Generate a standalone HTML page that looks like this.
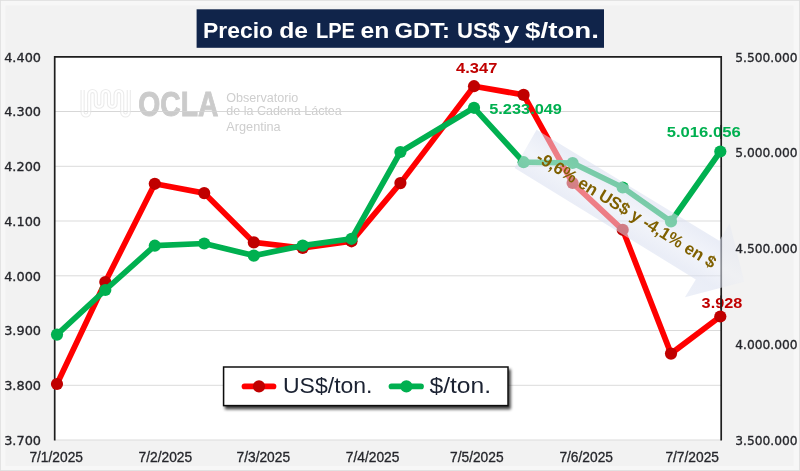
<!DOCTYPE html>
<html lang="es">
<head>
<meta charset="utf-8">
<title>Precio de LPE en GDT: US$ y $/ton.</title>
<style>
html,body{margin:0;padding:0;background:#f2f2f2;}
body{width:800px;height:471px;overflow:hidden;font-family:"Liberation Sans",sans-serif;}
svg{display:block;}
.ax{font-family:"DejaVu Sans","Liberation Sans",sans-serif;font-size:12px;fill:#25262b;stroke:#25262b;stroke-width:0.3px;}
.xd{font-family:"Liberation Sans",sans-serif;font-size:13.9px;fill:#25262b;stroke:#25262b;stroke-width:0.3px;}
.dl{font-family:"Liberation Sans",sans-serif;font-weight:bold;font-size:14.6px;}
</style>
</head>
<body>
<svg width="800" height="471" viewBox="0 0 800 471">
<defs>
<filter id="sh" x="-5%" y="-20%" width="112%" height="150%">
<feGaussianBlur in="SourceAlpha" stdDeviation="1.6"/>
<feOffset dx="2" dy="3" result="o"/>
<feComponentTransfer><feFuncA type="linear" slope="0.75"/></feComponentTransfer>
<feMerge><feMergeNode/><feMergeNode in="SourceGraphic"/></feMerge>
</filter>
<linearGradient id="ag" gradientUnits="userSpaceOnUse" x1="651.8" y1="176.5" x2="608.2" y2="249.1">
<stop offset="0" stop-color="#dde3f2" stop-opacity="0.55"/>
<stop offset="0.27" stop-color="#d9dff0" stop-opacity="0.55"/>
<stop offset="0.5" stop-color="#e8ecf6" stop-opacity="0.55"/>
<stop offset="0.73" stop-color="#d9dff0" stop-opacity="0.55"/>
<stop offset="1" stop-color="#dde3f2" stop-opacity="0.55"/>
</linearGradient>
</defs>
<!-- outer frame -->
<rect x="0" y="0" width="800" height="471" fill="#dedede"/>
<rect x="0.8" y="0.8" width="798.3" height="469.3" fill="#f7f7f7"/>
<rect x="5.5" y="5.5" width="788" height="460.5" fill="#f2f2f2"/>
<!-- plot area -->
<rect x="54.6" y="56.8" width="666.6" height="383.2" fill="#ffffff"/>
<g stroke="#dbdbdb" stroke-width="1"><line x1="55" x2="721" y1="111.5" y2="111.5"/><line x1="55" x2="721" y1="166.3" y2="166.3"/><line x1="55" x2="721" y1="221.0" y2="221.0"/><line x1="55" x2="721" y1="275.8" y2="275.8"/><line x1="55" x2="721" y1="330.5" y2="330.5"/><line x1="55" x2="721" y1="385.3" y2="385.3"/><line x1="55" x2="721" y1="440.0" y2="440.0"/></g>
<!-- watermark logo -->
<g fill="none" stroke-linecap="butt">
<path d="M82.6,90 L82.6,112.2 A3.3,3.3 0 0 0 89.19999999999999,112.2 L89.19999999999999,94.4 A3.3,3.3 0 0 1 95.8,94.4 L95.8,103.4 A3.3,3.3 0 0 0 102.39999999999999,103.4 L102.39999999999999,94.4 A3.3,3.3 0 0 1 109.0,94.4 L109.0,103.4 A3.3,3.3 0 0 0 115.6,103.4 L115.6,94.4 A3.3,3.3 0 0 1 122.19999999999999,94.4 L122.19999999999999,112.2 A3.3,3.3 0 0 0 128.79999999999998,112.2 L128.79999999999998,90" stroke="#ebebeb" stroke-width="4.2"/>
<path d="M82.6,90 L82.6,112.2 A3.3,3.3 0 0 0 89.19999999999999,112.2 L89.19999999999999,94.4 A3.3,3.3 0 0 1 95.8,94.4 L95.8,103.4 A3.3,3.3 0 0 0 102.39999999999999,103.4 L102.39999999999999,94.4 A3.3,3.3 0 0 1 109.0,94.4 L109.0,103.4 A3.3,3.3 0 0 0 115.6,103.4 L115.6,94.4 A3.3,3.3 0 0 1 122.19999999999999,94.4 L122.19999999999999,112.2 A3.3,3.3 0 0 0 128.79999999999998,112.2 L128.79999999999998,90" stroke="#ffffff" stroke-width="2"/>
</g>
<text x="138.3" y="116.3" textLength="80.2" lengthAdjust="spacingAndGlyphs" font-family="Liberation Sans, sans-serif" font-weight="bold" font-size="35.4" fill="#cbcbcb" stroke="#cbcbcb" stroke-width="0.9">OCLA</text>
<g font-family="Liberation Sans, sans-serif" font-size="12.5" fill="#cecece">
<text x="226.3" y="102.2" textLength="72" lengthAdjust="spacingAndGlyphs">Observatorio</text>
<text x="226.3" y="114.6" textLength="115.5" lengthAdjust="spacingAndGlyphs">de la Cadena Láctea</text>
<text x="226.3" y="131.2" textLength="54.4" lengthAdjust="spacingAndGlyphs">Argentina</text>
</g>
<line x1="55" x2="721" y1="111.5" y2="111.5" stroke="#d6d6d6" stroke-width="1.1" opacity="0.6"/>
<!-- plot border -->
<path d="M54.7,440.5 V56.8 H721.2 V440.5" fill="none" stroke="#1e1e1e" stroke-width="1.7"/>
<!-- series -->
<polyline points="57.0,384.0 105.3,282.0 154.8,183.8 204.2,193.1 253.8,242.4 302.7,248.0 351.5,241.3 400.4,183.1 474.0,86.2 523.6,94.9 572.6,183.0 622.7,229.8 671.0,353.6 720.3,316.5" fill="none" stroke="#ff0000" stroke-width="5.7" stroke-linejoin="round" stroke-linecap="round"/>
<g fill="#c00000"><circle cx="57.0" cy="384.0" r="6.1"/><circle cx="105.3" cy="282.0" r="6.1"/><circle cx="154.8" cy="183.8" r="6.1"/><circle cx="204.2" cy="193.1" r="6.1"/><circle cx="253.8" cy="242.4" r="6.1"/><circle cx="302.7" cy="248.0" r="6.1"/><circle cx="351.5" cy="241.3" r="6.1"/><circle cx="400.4" cy="183.1" r="6.1"/><circle cx="474.0" cy="86.2" r="6.1"/><circle cx="523.6" cy="94.9" r="6.1"/><circle cx="572.6" cy="183.0" r="6.1"/><circle cx="622.7" cy="229.8" r="6.1"/><circle cx="671.0" cy="353.6" r="6.1"/><circle cx="720.3" cy="316.5" r="6.1"/></g>
<polyline points="57.0,334.6 105.3,290.0 154.8,245.7 204.2,243.5 253.8,255.6 302.7,245.6 351.5,238.8 400.4,152.0 474.0,107.8 523.6,162.2 572.6,163.0 622.7,187.5 671.0,221.5 720.3,151.5" fill="none" stroke="#00b050" stroke-width="5.7" stroke-linejoin="round" stroke-linecap="round"/>
<g fill="#00b050"><circle cx="57.0" cy="334.6" r="6.1"/><circle cx="105.3" cy="290.0" r="6.1"/><circle cx="154.8" cy="245.7" r="6.1"/><circle cx="204.2" cy="243.5" r="6.1"/><circle cx="253.8" cy="255.6" r="6.1"/><circle cx="302.7" cy="245.6" r="6.1"/><circle cx="351.5" cy="238.8" r="6.1"/><circle cx="400.4" cy="152.0" r="6.1"/><circle cx="474.0" cy="107.8" r="6.1"/><circle cx="523.6" cy="162.2" r="6.1"/><circle cx="572.6" cy="163.0" r="6.1"/><circle cx="622.7" cy="187.5" r="6.1"/><circle cx="671.0" cy="221.5" r="6.1"/><circle cx="720.3" cy="151.5" r="6.1"/></g>
<!-- data labels -->
<text class="dl" x="456.1" y="73.4" textLength="41.2" lengthAdjust="spacingAndGlyphs" fill="#c00000">4.347</text>
<text class="dl" x="489.2" y="114.2" textLength="72.8" lengthAdjust="spacingAndGlyphs" fill="#00b050">5.233.049</text>
<text class="dl" x="666.7" y="137.3" textLength="74" lengthAdjust="spacingAndGlyphs" fill="#00b050">5.016.056</text>
<text class="dl" x="701.6" y="307.8" textLength="40.7" lengthAdjust="spacingAndGlyphs" fill="#c00000">3.928</text>
<path d="M721.2,125 V139 M721.2,295.5 V309.6" fill="none" stroke="#1e1e1e" stroke-width="1.7"/>
<!-- arrow -->
<clipPath id="cpin"><rect x="0" y="0" width="722.2" height="471"/></clipPath>
<clipPath id="cpout"><rect x="722.2" y="0" width="80" height="471"/></clipPath>
<g clip-path="url(#cpin)"><polygon points="536.6,129.8 719.3,240.8 729.7,223.3 744.3,281.7 684.9,297.3 695.8,279.4 514.6,168" fill="url(#ag)"/></g>
<g clip-path="url(#cpout)" opacity="0.5"><polygon points="536.6,129.8 719.3,240.8 729.7,223.3 744.3,281.7 684.9,297.3 695.8,279.4 514.6,168" fill="url(#ag)"/></g>
<text transform="translate(535.1,160.5) rotate(31.5)" x="0" y="0" textLength="207.3" lengthAdjust="spacingAndGlyphs" font-family="Liberation Sans, sans-serif" font-weight="bold" font-size="17" fill="#7f6000">-9,6% en US$ y -4,1% en $</text>
<!-- axis labels -->
<g class="ax"><text x="4.2" y="61.7" textLength="36.8" lengthAdjust="spacingAndGlyphs">4.400</text><text x="4.2" y="116.4" textLength="36.8" lengthAdjust="spacingAndGlyphs">4.300</text><text x="4.2" y="171.2" textLength="36.8" lengthAdjust="spacingAndGlyphs">4.200</text><text x="4.2" y="225.9" textLength="36.8" lengthAdjust="spacingAndGlyphs">4.100</text><text x="4.2" y="280.7" textLength="36.8" lengthAdjust="spacingAndGlyphs">4.000</text><text x="4.2" y="335.4" textLength="36.8" lengthAdjust="spacingAndGlyphs">3.900</text><text x="4.2" y="390.2" textLength="36.8" lengthAdjust="spacingAndGlyphs">3.800</text><text x="4.2" y="444.9" textLength="36.8" lengthAdjust="spacingAndGlyphs">3.700</text><text x="735.3" y="61.5" textLength="62.3" lengthAdjust="spacingAndGlyphs">5.500.000</text><text x="735.3" y="157.3" textLength="62.3" lengthAdjust="spacingAndGlyphs">5.000.000</text><text x="735.3" y="253.1" textLength="62.3" lengthAdjust="spacingAndGlyphs">4.500.000</text><text x="735.3" y="348.9" textLength="62.3" lengthAdjust="spacingAndGlyphs">4.000.000</text><text x="735.3" y="444.7" textLength="62.3" lengthAdjust="spacingAndGlyphs">3.500.000</text></g>
<g class="xd"><text x="29.4" y="462" textLength="53.6" lengthAdjust="spacingAndGlyphs">7/1/2025</text><text x="138.6" y="462" textLength="53.6" lengthAdjust="spacingAndGlyphs">7/2/2025</text><text x="236.5" y="462" textLength="53.6" lengthAdjust="spacingAndGlyphs">7/3/2025</text><text x="345.8" y="462" textLength="53.6" lengthAdjust="spacingAndGlyphs">7/4/2025</text><text x="450.0" y="462" textLength="53.6" lengthAdjust="spacingAndGlyphs">7/5/2025</text><text x="559.4" y="462" textLength="53.6" lengthAdjust="spacingAndGlyphs">7/6/2025</text><text x="665.4" y="462" textLength="53.6" lengthAdjust="spacingAndGlyphs">7/7/2025</text></g>
<!-- title -->
<rect x="196.6" y="9.3" width="407.4" height="38.5" fill="#10244a"/>
<g font-family="Liberation Sans, sans-serif" font-weight="bold" font-size="22" fill="#ffffff"><text x="203.1" y="38.3" textLength="69.9" lengthAdjust="spacingAndGlyphs">Precio</text><text x="279.2" y="38.3" textLength="28.8" lengthAdjust="spacingAndGlyphs">de</text><text x="316.0" y="38.3" textLength="39.0" lengthAdjust="spacingAndGlyphs">LPE</text><text x="360.6" y="38.3" textLength="28.8" lengthAdjust="spacingAndGlyphs">en</text><text x="394.6" y="38.3" textLength="55.4" lengthAdjust="spacingAndGlyphs">GDT:</text><text x="457.0" y="38.3" textLength="43.0" lengthAdjust="spacingAndGlyphs">US$</text><text x="503.4" y="38.3" textLength="15.6" lengthAdjust="spacingAndGlyphs">y</text><text x="525.0" y="38.3" textLength="74.0" lengthAdjust="spacingAndGlyphs">$/ton.</text></g>
<!-- legend -->
<rect x="223.6" y="367" width="284.4" height="38.6" fill="#ffffff" stroke="#111111" stroke-width="1.5" filter="url(#sh)"/>
<line x1="244.5" x2="273.5" y1="386.4" y2="386.4" stroke="#ff0000" stroke-width="5.7" stroke-linecap="round"/>
<circle cx="259" cy="386.4" r="6.1" fill="#c00000"/>
<text x="283" y="393.2" textLength="89.5" lengthAdjust="spacingAndGlyphs" font-family="Liberation Sans, sans-serif" font-size="22.3" fill="#1b2232">US$/ton.</text>
<line x1="391.5" x2="421" y1="386.4" y2="386.4" stroke="#00b050" stroke-width="5.7" stroke-linecap="round"/>
<circle cx="406.4" cy="386.4" r="6.1" fill="#00b050"/>
<text x="429.5" y="393.2" textLength="61.6" lengthAdjust="spacingAndGlyphs" font-family="Liberation Sans, sans-serif" font-size="22.3" fill="#1b2232">$/ton.</text>
</svg>
</body>
</html>
